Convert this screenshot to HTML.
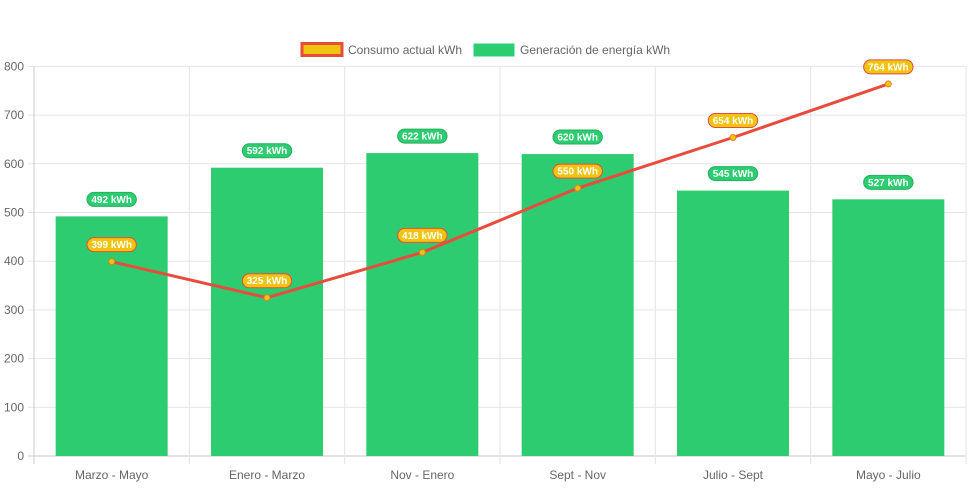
<!DOCTYPE html>
<html><head><meta charset="utf-8"><style>
body{margin:0;background:#fff;font-family:"Liberation Sans",sans-serif;}
svg text{font-family:"Liberation Sans",sans-serif;}
</style></head><body>
<svg id="chart" width="971" height="485" viewBox="0 0 971 485">
<g id="legend">
<g>
<rect x="302" y="43.5" width="40" height="12" fill="#f1c40f" stroke="#e74c3c" stroke-width="3"/>
<text x="348" y="54" font-size="12" fill="#666">Consumo actual kWh</text></g>
<g>
<rect x="474" y="44" width="40" height="12" fill="#2ecc71" stroke="#27d17a" stroke-width="1"/>
<text x="520" y="54" font-size="12" fill="#666">Generación de energía kWh</text></g>
</g>
<g id="grid"></g><g id="bars"></g><g id="line"></g><g id="labels"></g>
</svg>
<script>
const categories=["Marzo - Mayo","Enero - Marzo","Nov - Enero","Sept - Nov","Julio - Sept","Mayo - Julio"];
const generacion=[492,592,622,620,545,527];
const consumo=[399,325,418,550,654,764];
const yTicks=[0,100,200,300,400,500,600,700,800];
const NS="http://www.w3.org/2000/svg";
const L=34,R=966,T=66.4,B=456,YMAX=800;
const bw=(R-L)/categories.length;
const y=v=>B-(v/YMAX)*(B-T);
const xc=i=>L+bw*(i+0.5);
function mk(tag,attrs,parent){const e=document.createElementNS(NS,tag);for(const k in attrs)e.setAttribute(k,attrs[k]);parent.appendChild(e);return e;}
const grid=document.getElementById('grid'),bars=document.getElementById('bars'),line=document.getElementById('line'),labels=document.getElementById('labels');
yTicks.forEach(t=>{
 const l=mk('line',{x1:L-6,x2:R,y1:y(t),y2:y(t),stroke:t===0?'#c8c8c8':'#e5e5e5','stroke-width':1},grid);
 
 
 const tx=mk('text',{x:L-10,y:y(t)+4,'text-anchor':'end','font-size':12,fill:'#666'},grid);
 tx.textContent=t;
 
 
});
for(let i=0;i<=categories.length;i++){
 const l=mk('line',{x1:L+bw*i,x2:L+bw*i,y1:T,y2:B+8,stroke:i===0?'#c8c8c8':'#e5e5e5','stroke-width':1},grid);
 
 
}
categories.forEach((c,i)=>{
 const tx=mk('text',{x:xc(i),y:479,'text-anchor':'middle','font-size':12,fill:'#666'},grid);
 tx.textContent=c;
 
 
});
function pill(cx,cy,txt,fill,stroke){
 const g=mk('g',{},labels);
 
 
 const w=txt.length*6.2+6;
 mk('rect',{x:cx-w/2,y:cy-7,width:w,height:14,rx:7,fill:fill,stroke:stroke,'stroke-width':1},g);
 const t=mk('text',{x:cx,y:cy+3.5,'text-anchor':'middle','font-size':10,'font-weight':'bold',fill:'#fff'},g);
 t.textContent=txt;
}
generacion.forEach((v,i)=>{
 const r=mk('rect',{x:xc(i)-56,y:y(v),width:112,height:B-y(v),fill:'#2ecc71'},bars);
 
 
 pill(xc(i),y(v)-17,v+' kWh','#2ecc71','#27ae60');
});
const pl=mk('polyline',{points:consumo.map((v,i)=>xc(i)+','+y(v)).join(' '),fill:'none',stroke:'#e74c3c','stroke-width':3},line);


consumo.forEach((v,i)=>{
 const c=mk('circle',{cx:xc(i),cy:y(v),r:3,fill:'#f1c40f',stroke:'#e67e22','stroke-width':1},line);
 
 
 pill(xc(i),y(v)-17,v+' kWh','#f1c40f','#e74c3c');
});
</script>
</body></html>
